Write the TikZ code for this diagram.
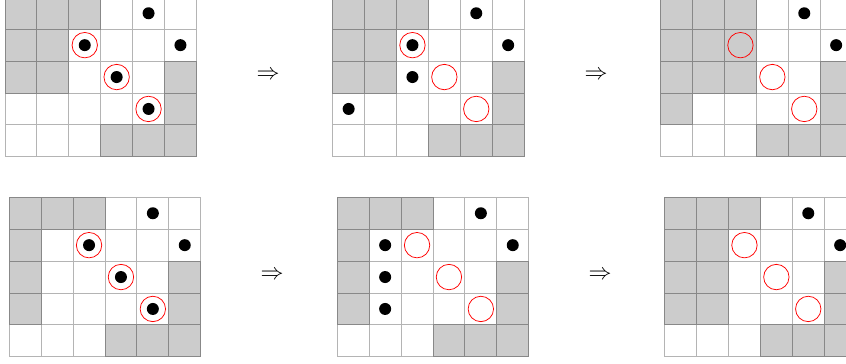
\documentclass[tikz,border=0pt]{standalone}
\definecolor{cellfill}{HTML}{CCCCCC}
\definecolor{gridl}{HTML}{B4B4B4}
\definecolor{cellb}{HTML}{888888}
\tikzset{
  gline/.style={draw=gridl, line width=0.9pt},
  gcell/.style={fill=cellfill, draw=cellb, line width=0.9pt},
  blackdot/.style={fill=black},
  ring/.style={draw=red, line width=0.75pt},
  implies/.style={inner sep=0pt, scale=2.3},
}
\newcommand\cellsz{31.9}
\newcommand\drawgrid[4]{%
  \begin{scope}[shift={#1}]
    \foreach \i in {0,...,6} \draw[gline] ({\i*\cellsz},0) -- ({\i*\cellsz},{5*\cellsz});
    \foreach \i in {0,...,5} \draw[gline] (0,{\i*\cellsz}) -- ({6*\cellsz},{\i*\cellsz});
    \foreach \c/\r in {#2} \path[gcell] ({\c*\cellsz},{\r*\cellsz}) rectangle ++(\cellsz,\cellsz);
    \foreach \c/\r in {#3} \fill[blackdot] ({(\c+0.5)*\cellsz},{(\r+0.5)*\cellsz}) circle[radius=6pt];
    \foreach \c/\r in {#4} \draw[ring] ({(\c+0.5)*\cellsz},{(\r+0.5)*\cellsz}) circle[radius=12.7pt];
  \end{scope}}
\begin{document}
\begin{tikzpicture}[x=1pt, y=-1pt]
  \useasboundingbox (0,0) rectangle (846,364);
  \clip (0,0) rectangle (846,364);
  % top row
  \drawgrid{(5,-2.7)}{0/0,1/0,2/0,0/1,1/1,0/2,1/2,5/2,5/3,3/4,4/4,5/4}{4/0,2/1,5/1,3/2,4/3}{2/1,3/2,4/3}
  \drawgrid{(332.7,-2.7)}{0/0,1/0,2/0,0/1,1/1,0/2,1/2,5/2,5/3,3/4,4/4,5/4}{4/0,2/1,5/1,2/2,0/3}{2/1,3/2,4/3}
  \drawgrid{(660.7,-2.7)}{0/0,1/0,2/0,0/1,1/1,2/1,0/2,1/2,2/2,5/2,0/3,5/3,3/4,4/4,5/4}{4/0,5/1}{2/1,3/2,4/3}
  % bottom row
  \drawgrid{(9.3,197.3)}{0/0,1/0,2/0,0/1,0/2,5/2,0/3,5/3,3/4,4/4,5/4}{4/0,2/1,5/1,3/2,4/3}{2/1,3/2,4/3}
  \drawgrid{(337.3,197.3)}{0/0,1/0,2/0,0/1,0/2,5/2,0/3,5/3,3/4,4/4,5/4}{4/0,1/1,5/1,1/2,1/3}{2/1,3/2,4/3}
  \drawgrid{(664.7,197.3)}{0/0,1/0,2/0,0/1,1/1,0/2,1/2,5/2,0/3,1/3,5/3,3/4,4/4,5/4}{4/0,5/1}{2/1,3/2,4/3}
  % arrows
  \node[implies] (a1) at (268,75) {$\Rightarrow$};
  \node[implies] (a2) at (596,75) {$\Rightarrow$};
  \node[implies] (a3) at (272,275) {$\Rightarrow$};
  \node[implies] (a4) at (600,275) {$\Rightarrow$};
\end{tikzpicture}
\end{document}
